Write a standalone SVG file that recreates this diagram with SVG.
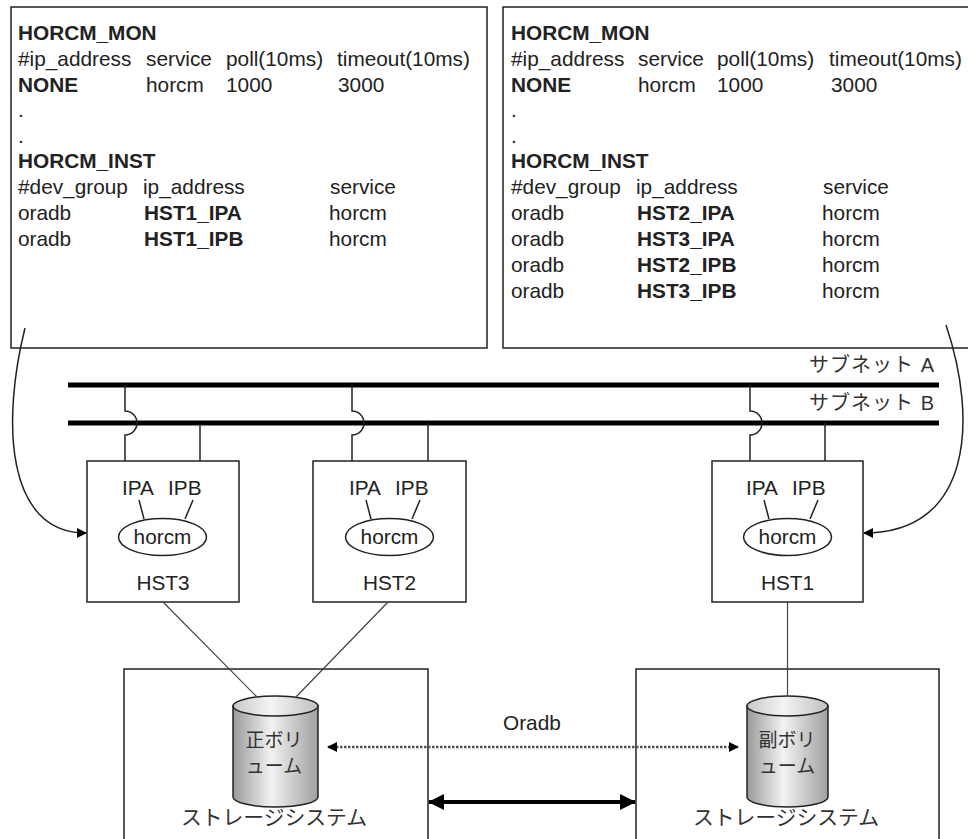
<svg xmlns="http://www.w3.org/2000/svg" width="968" height="839" viewBox="0 0 968 839">
<style>
text{font-family:"Liberation Sans","Noto Sans CJK JP",sans-serif;font-size:20.8px;fill:#222}
.b{font-weight:bold}
.j{font-family:"Liberation Sans","Noto Sans CJK JP",sans-serif;font-size:19px;fill:#333}
.c{text-anchor:middle}
.box{fill:#fff;stroke:#222;stroke-width:1.5}
.ln{fill:none;stroke:#222;stroke-width:1.5}
.thin{fill:none;stroke:#444;stroke-width:1.2}
.net{stroke:#000;stroke-width:5}
</style>
<defs>
<marker id="ah" markerWidth="10" markerHeight="10" refX="9" refY="5" orient="auto" markerUnits="userSpaceOnUse"><path d="M0,0 L10,5 L0,10 z" fill="#000"/></marker>
<marker id="big" markerWidth="16" markerHeight="16" refX="15" refY="8" orient="auto-start-reverse" markerUnits="userSpaceOnUse"><path d="M0,0 L16,8 L0,16 z" fill="#000"/></marker>
<marker id="dot" markerWidth="10" markerHeight="10" refX="9" refY="5" orient="auto-start-reverse" markerUnits="userSpaceOnUse"><path d="M0,0 L10,5 L0,10 z" fill="#000"/></marker>
<linearGradient id="cyl" x1="0" y1="0" x2="1" y2="0">
<stop offset="0" stop-color="#9a9a9a"/><stop offset="0.45" stop-color="#f2f2f2"/><stop offset="1" stop-color="#a0a0a0"/>
</linearGradient>
<linearGradient id="cylt" x1="0" y1="0" x2="1" y2="0">
<stop offset="0" stop-color="#c8c8c8"/><stop offset="0.45" stop-color="#f4f4f4"/><stop offset="1" stop-color="#c0c0c0"/>
</linearGradient>
</defs>

<g id="config-hst1">
<rect class="box" x="11" y="7" width="476" height="341"/>
<text class="b" x="18" y="40">HORCM_MON</text>
<text x="18" y="66">#ip_address</text><text x="146" y="66">service</text><text x="226" y="66">poll(10ms)</text><text x="337" y="66">timeout(10ms)</text>
<text class="b" x="18" y="92">NONE</text><text x="146" y="92">horcm</text><text x="226" y="92">1000</text><text x="338" y="92">3000</text>
<text x="18" y="117">.</text>
<text x="18" y="143">.</text>
<text class="b" x="18" y="168">HORCM_INST</text>
<text x="18" y="194">#dev_group</text><text x="143" y="194">ip_address</text><text x="330" y="194">service</text>
<text x="18" y="220">oradb</text><text class="b" x="144" y="220">HST1_IPA</text><text x="329" y="220">horcm</text>
<text x="18" y="246">oradb</text><text class="b" x="144" y="246">HST1_IPB</text><text x="329" y="246">horcm</text>
</g>

<g id="config-hst23">
<rect class="box" x="503" y="7" width="480" height="341"/>
<text class="b" x="511" y="40">HORCM_MON</text>
<text x="511" y="66">#ip_address</text><text x="638" y="66">service</text><text x="717" y="66">poll(10ms)</text><text x="829" y="66">timeout(10ms)</text>
<text class="b" x="511" y="92">NONE</text><text x="638" y="92">horcm</text><text x="717" y="92">1000</text><text x="831" y="92">3000</text>
<text x="511" y="117">.</text>
<text x="511" y="143">.</text>
<text class="b" x="511" y="168">HORCM_INST</text>
<text x="511" y="194">#dev_group</text><text x="636" y="194">ip_address</text><text x="823" y="194">service</text>
<text x="511" y="220">oradb</text><text class="b" x="637" y="220">HST2_IPA</text><text x="822" y="220">horcm</text>
<text x="511" y="246">oradb</text><text class="b" x="637" y="246">HST3_IPA</text><text x="822" y="246">horcm</text>
<text x="511" y="272">oradb</text><text class="b" x="637" y="272">HST2_IPB</text><text x="822" y="272">horcm</text>
<text x="511" y="298">oradb</text><text class="b" x="637" y="298">HST3_IPB</text><text x="822" y="298">horcm</text>
</g>

<g id="subnet-a">
<line class="net" x1="68" y1="385" x2="939" y2="385"/>
<text class="j" x="935" y="372" style="font-size:20px;text-anchor:end;letter-spacing:1px">サブネット A</text>
</g>
<g id="subnet-b">
<line class="net" x1="68" y1="423" x2="939" y2="423"/>
<text class="j" x="935" y="410" style="font-size:20px;text-anchor:end;letter-spacing:1px">サブネット B</text>
</g>

<g id="hst3">
<rect class="box" x="87" y="461" width="152" height="141"/>
<text x="122" y="495">IPA</text><text x="168" y="495">IPB</text>
<line class="ln" x1="139" y1="500" x2="144" y2="519"/>
<line class="ln" x1="193" y1="500" x2="185" y2="519"/>
<ellipse class="ln" cx="162.5" cy="537" rx="44" ry="18.5"/>
<text class="c" x="162.5" y="544">horcm</text>
<text class="c" x="163" y="590">HST3</text>
</g>

<g id="hst2">
<rect class="box" x="313" y="461" width="153" height="141"/>
<text x="349" y="495">IPA</text><text x="395" y="495">IPB</text>
<line class="ln" x1="366" y1="500" x2="371" y2="519"/>
<line class="ln" x1="420" y1="500" x2="412" y2="519"/>
<ellipse class="ln" cx="389.5" cy="537" rx="44" ry="18.5"/>
<text class="c" x="389.5" y="544">horcm</text>
<text class="c" x="389.5" y="590">HST2</text>
</g>

<g id="hst1">
<rect class="box" x="712" y="461" width="151" height="141"/>
<text x="746" y="495">IPA</text><text x="792" y="495">IPB</text>
<line class="ln" x1="764" y1="500" x2="769" y2="519"/>
<line class="ln" x1="818" y1="500" x2="810" y2="519"/>
<ellipse class="ln" cx="787.5" cy="537" rx="44" ry="18.5"/>
<text class="c" x="787.5" y="544">horcm</text>
<text class="c" x="787.5" y="590">HST1</text>
</g>

<g id="storage-primary">
<rect class="box" x="124" y="669" width="304" height="180"/>
<path d="M233,706 V797 A42.5,10 0 0 0 318,797 V706 Z" fill="url(#cyl)" stroke="#222" stroke-width="1.5"/>
<ellipse cx="275.5" cy="706" rx="42.5" ry="10" fill="url(#cylt)" stroke="#222" stroke-width="1.5"/>
<text class="j c" x="274" y="747">正ボリ</text>
<text class="j c" x="274" y="773">ューム</text>
<text class="j c" x="274" y="825" style="font-size:20.8px">ストレージシステム</text>
</g>

<g id="storage-secondary">
<rect class="box" x="636" y="669" width="303" height="180"/>
<path d="M747,706 V797 A40.5,10 0 0 0 828,797 V706 Z" fill="url(#cyl)" stroke="#222" stroke-width="1.5"/>
<ellipse cx="787.5" cy="706" rx="40.5" ry="10" fill="url(#cylt)" stroke="#222" stroke-width="1.5"/>
<text class="j c" x="787" y="747">副ボリ</text>
<text class="j c" x="787" y="773">ューム</text>
<text class="j c" x="786" y="825" style="font-size:20.8px">ストレージシステム</text>
</g>

<g id="connectors">
<path class="ln" d="M125,385 V411 A12,12 0 0 1 125,435 V461"/>
<line class="ln" x1="200" y1="423" x2="200" y2="461"/>
<path class="ln" d="M352,385 V411 A12,12 0 0 1 352,435 V461"/>
<line class="ln" x1="428" y1="423" x2="428" y2="461"/>
<path class="ln" d="M750,385 V411 A12,12 0 0 1 750,435 V461"/>
<line class="ln" x1="825" y1="423" x2="825" y2="461"/>
<path class="ln" d="M25,328 C2,420 5,533 86,533" marker-end="url(#ah)"/>
<path class="ln" d="M946,325 C978,420 972,533 864,533" marker-end="url(#ah)"/>
<line class="thin" x1="163" y1="602" x2="257" y2="697"/>
<line class="thin" x1="388" y1="602" x2="295" y2="698"/>
<line class="thin" x1="787.5" y1="602" x2="787.5" y2="696"/>
<line x1="328" y1="747" x2="738" y2="747" stroke="#555" stroke-width="2.5" stroke-dasharray="2.5,1.5" marker-start="url(#dot)" marker-end="url(#dot)"/>
<text x="503" y="730">Oradb</text>
<line x1="429" y1="802" x2="635" y2="802" stroke="#000" stroke-width="4" marker-start="url(#big)" marker-end="url(#big)"/>
</g>
</svg>
